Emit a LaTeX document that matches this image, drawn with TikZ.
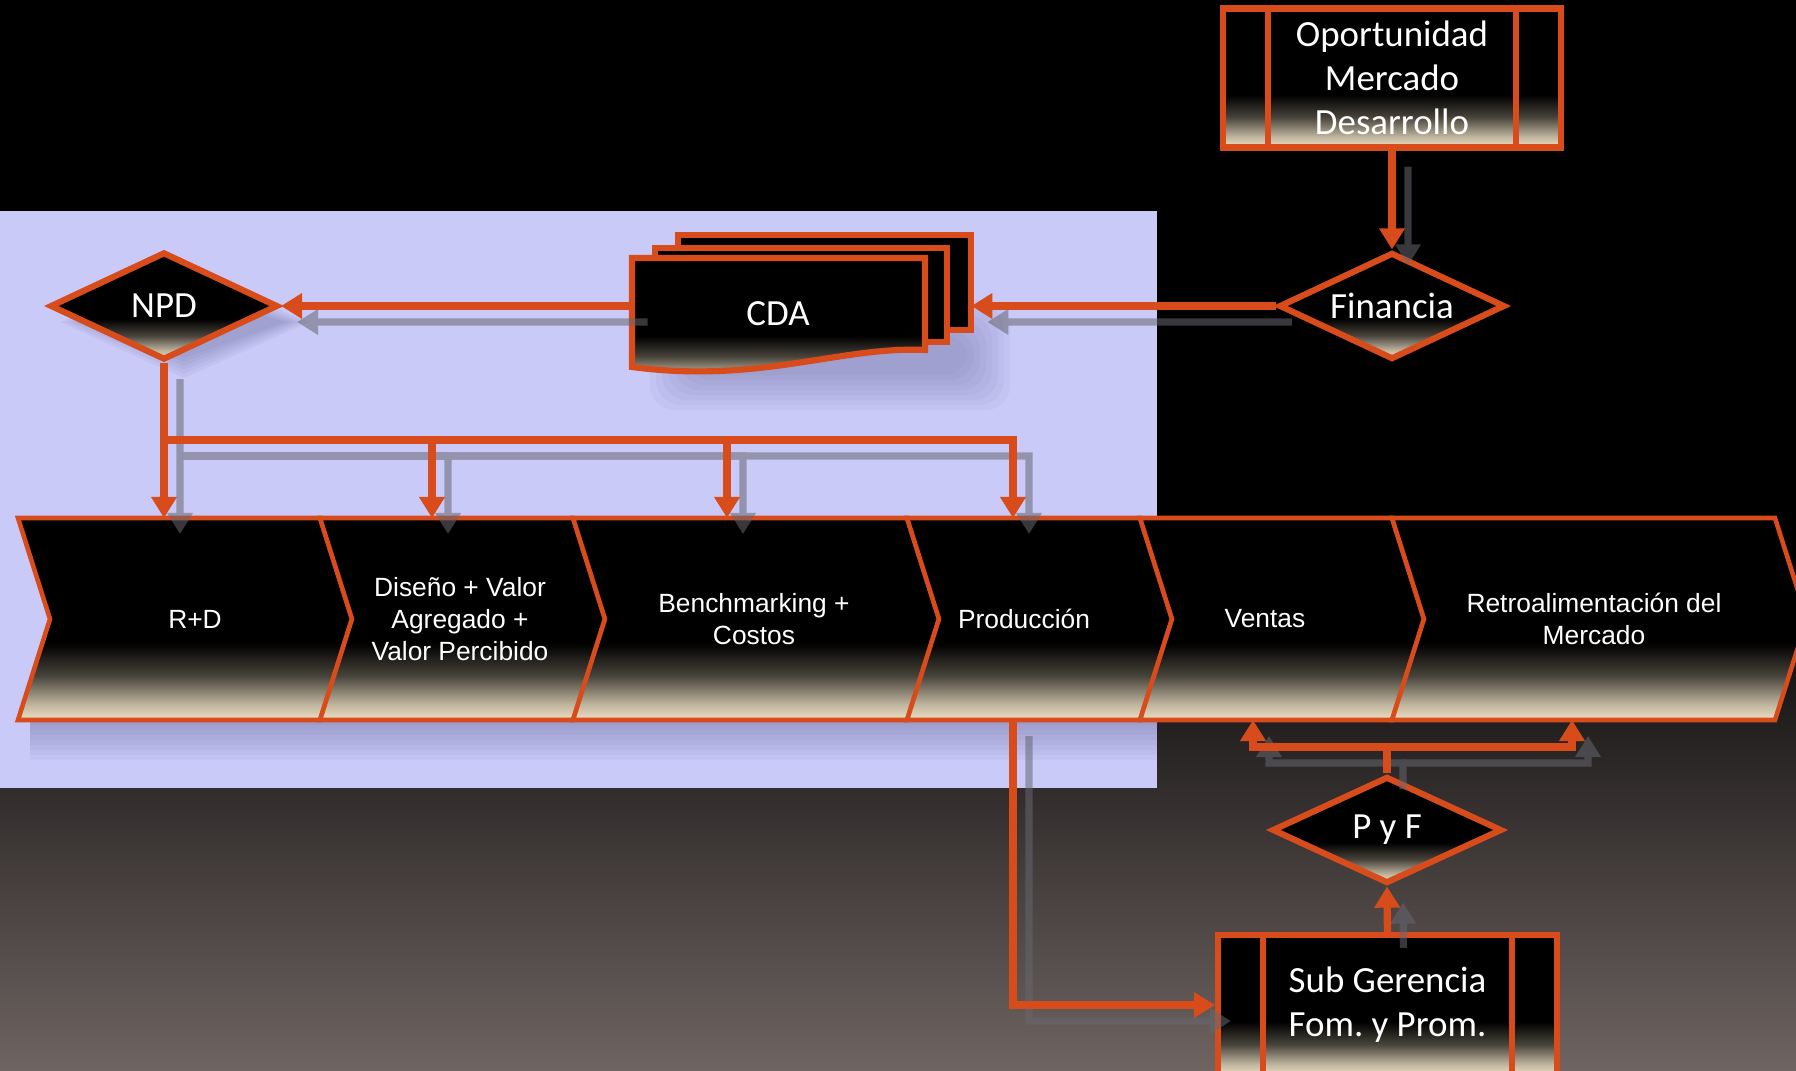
\documentclass[tikz,border=0pt]{standalone}
\usepackage{fontspec}
\setmainfont{Carlito}
\newfontfamily\chevfont{Liberation Sans}
\usetikzlibrary{positioning, arrows.meta, shapes.geometric}

\definecolor{flowor}{HTML}{D84C1C}
\definecolor{lavbg}{HTML}{CACAF9}
\definecolor{glowc}{HTML}{EDE0C4}
\definecolor{shadowc}{HTML}{66666F}
\definecolor{softc}{HTML}{3C3C6E}
\definecolor{floorc}{HTML}{6E6462}

\pgfdeclareverticalshading{glossy}{100bp}{color(0bp)=(glowc); color(25bp)=(glowc); color(29bp)=(glowc!80!black); color(36bp)=(glowc!30!black); color(44bp)=(black); color(100bp)=(black)}

\newcommand{\pxu}{0.02cm}
\newcommand{\boxfont}{\fontsize{21}{25}\selectfont}
\newcommand{\chevtext}{\chevfont\fontsize{15}{18}\selectfont}

% connectors, drawn twice: once as shadow, once in orange
\newcommand{\flowlinks}[1]{
  \draw[#1] (opp.south) -- (fin.north);
  \draw[#1] (fin.west) -- (fin.west -| cda.east);
  \draw[#1] (cda.west |- npd.east) -- (npd.east);
  \draw[#1] (npd.south) -- (rd-in);
  \draw[#1] (npd.south |- bus) -| (dis-in);
  \draw[#1] (npd.south |- bus) -| (bench-in);
  \draw[#1] (npd.south |- bus) -| (prod-in);
  \draw[#1] (prod-out) |- (sub.west);
  \draw[#1] (sub.north) -- (pyf.south);
  \draw[#1] (pyf.north) -- (pyf.north |- fb) -| (ventas-in);
  \draw[#1] (pyf.north |- fb) -| (retro-in);
}

\tikzset{
  flow/.style      = {draw=flowor, line width=4.2pt, -{Triangle[length=12pt, width=14pt]}},
  shadowflow/.style= {draw=shadowc, line width=4.2pt, -{Triangle[length=12pt, width=14pt]}},
  glossbox/.style  = {shade, shading=glossy, draw=flowor, line width=3.5pt, text=white, font=\boxfont},
  decision/.style  = {glossbox, diamond, aspect=2.1, inner sep=0pt,
                      minimum width=226*\pxu, minimum height=107*\pxu},
  process/.style   = {glossbox, rectangle, inner sep=0pt, align=center,
                      minimum width=338*\pxu, minimum height=139*\pxu,
                      path picture={
                        \draw[flowor, line width=3pt]
                          ([xshift=45*\pxu]path picture bounding box.north west) --
                          ([xshift=45*\pxu]path picture bounding box.south west)
                          ([xshift=-45*\pxu]path picture bounding box.north east) --
                          ([xshift=-45*\pxu]path picture bounding box.south east);}},
  chevron/.style   = {shading=glossy, draw=flowor, line width=2.6pt},
  stagetext/.style = {text=white, font=\chevtext, align=center},
  doccopy/.style   = {draw=flowor, line width=3pt, fill=black}
}

\begin{document}
\begin{tikzpicture}[x=0.02cm, y=-0.02cm]
  \useasboundingbox (0,0) rectangle (1796,1071);

  % background
  \fill[black] (0,0) rectangle (1796,1071);
  \shade[top color=black, bottom color=floorc] (0,560) rectangle (1796,1071);
  \fill[lavbg] (0,211) rectangle (1157,788);

  % soft shadows
  \foreach \k in {1,...,8}
    \fill[softc, opacity=.045] (30,720) rectangle (1157,{720+5*\k});
  \foreach \k in {0,...,7}
    \fill[softc, opacity=.04, rounded corners=14pt] ({650+6*\k},{300+5*\k}) rectangle ({1010-6*\k},{410-5*\k});
  \foreach \k in {0,...,5}
    \fill[softc, opacity=.05] ({60+5*\k},322) -- (184,{272+4*\k}) -- ({310-5*\k},322) -- (184,{378-4*\k}) -- cycle;

  % value chain
  \foreach \a/\b/\tx/\nm/\lbl in {18/320/195/rd/{R+D},
      320/573/460/dis/{Diseño + Valor\\Agregado +\\Valor Percibido},
      573/907/754/bench/{Benchmarking +\\Costos},
      907/1140/1024/prod/{Producción},
      1140/1392/1265/ventas/{Ventas},
      1392/1775/1594/retro/{Retroalimentación del\\Mercado}}
  {
    \shade[chevron] (\a,518) -- (\b,518) -- (\b+32,619) -- (\b,720) -- (\a,720) -- (\a+32,619) -- cycle;
    \node[stagetext] (\nm) at (\tx,619) {\lbl};
  }

  % CDA document stack
  \draw[doccopy] (678,235) rectangle (971,330);
  \draw[doccopy] (655,248) rectangle (947,342);
  \shade[shading=glossy, draw=flowor, line width=3.5pt]
    (632,258) -- (925,258) -- (925,350) .. controls (840,346) and (760,384) .. (632,367) -- cycle;
  \node[inner sep=0pt, minimum width=339*\pxu, minimum height=133*\pxu] (cda) at (801.5,301.5) {};
  \node[text=white, font=\boxfont] (cdatxt) at (778,314) {CDA};

  % nodes
  \node[process] (opp) at (1392,78) {Oportunidad\\Mercado\\Desarrollo};
  \node[decision] (fin) at (1392,306) {Financia};
  \node[decision, minimum width=228*\pxu, minimum height=108*\pxu] (npd) at (164,306) {NPD};
  \node[decision, minimum width=230*\pxu] (pyf) at (1387,830) {P y F};
  \node[process, minimum width=339*\pxu, minimum height=140*\pxu] (sub) at (1387.5,1005) {Sub Gerencia\\Fom.\ y Prom.};

  \coordinate (bus) at (164,440);
  \coordinate (rd-in) at (164,518);
  \coordinate (dis-in) at (432,518);
  \coordinate (bench-in) at (727,518);
  \coordinate (prod-in) at (1013,518);
  \coordinate (prod-out) at (1013,720);
  \coordinate (fb) at (1387,747);
  \coordinate (ventas-in) at (1253,720);
  \coordinate (retro-in) at (1572,720);

  % connectors
  \begin{scope}[transparency group, opacity=.55]
    \path (0,0) rectangle (1796,1071);
    \begin{scope}[transform canvas={shift={(16,16)}}]
      \flowlinks{shadowflow}
    \end{scope}
  \end{scope}
  \flowlinks{flow}
\end{tikzpicture}
\end{document}
